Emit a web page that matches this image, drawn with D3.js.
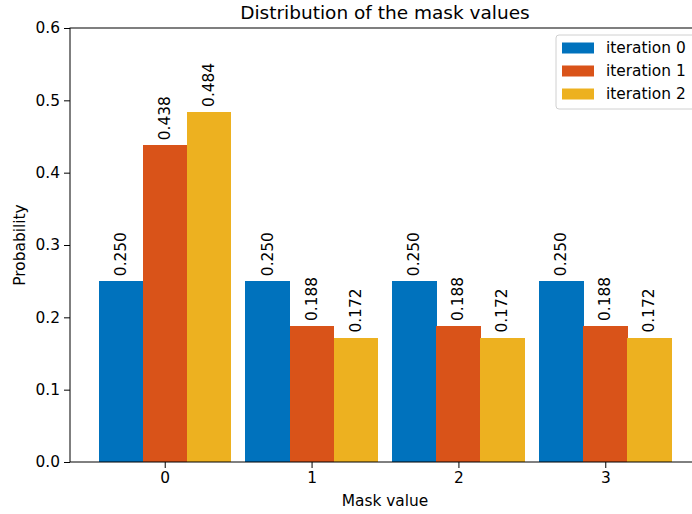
<!DOCTYPE html>
<html>
<head>
<meta charset="utf-8">
<script src="https://cdn.jsdelivr.net/npm/d3@7"></script>
<style>
  body { margin: 0; background: #fff; }
  text { font-family: "DejaVu Sans", sans-serif; fill: #000; }
</style>
</head>
<body>
<svg id="chart" width="692" height="514"></svg>
<script>
// data
var categories = [0, 1, 2, 3];
var seriesNames = ["iteration 0", "iteration 1", "iteration 2"];
var iter0 = [0.250, 0.250, 0.250, 0.250];
var iter1 = [0.438, 0.188, 0.188, 0.188];
var iter2 = [0.484, 0.172, 0.172, 0.172];
var colors = ["#0072BD", "#D95319", "#EDB120"];
var yTicks = [0.0, 0.1, 0.2, 0.3, 0.4, 0.5, 0.6];

var series = [iter0, iter1, iter2];

var svg = d3.select("#chart");
var margin = { left: 70, right: 700, top: 28, bottom: 462 };
var fs = "15.4px";

var barW = 0.3;
var x = d3.scaleLinear().domain([-0.645, 3.645]).range([margin.left, margin.right]);
var y = d3.scaleLinear().domain([0, 0.6]).range([margin.bottom, margin.top]);

// bars + value labels
series.forEach(function (vals, s) {
    var off = (s - 1) * barW;
    var g = svg.append("g");
    g.selectAll("rect")
        .data(vals)
        .enter()
        .append("rect")
        .attr("x", function (d, i) { return x(categories[i] + off - barW / 2); })
        .attr("y", function (d) { return y(d); })
        .attr("width", x(barW) - x(0) + 0.5)
        .attr("height", function (d) { return y(0) - y(d); })
        .attr("shape-rendering", "crispEdges")
        .style("fill", colors[s]);

    g.selectAll("text")
        .data(vals)
        .enter()
        .append("text")
        .attr("transform", function (d, i) {
            return "translate(" + x(categories[i] + off) + "," + (y(d) - 5) + ") rotate(-90)";
        })
        .attr("text-anchor", "start")
        .attr("dominant-baseline", "central")
        .style("font-size", fs)
        .text(function (d) { return d.toFixed(3); });
});

// axes
var xAxis = d3.axisBottom(x).tickValues(categories).tickFormat(d3.format("d")).tickSize(6).tickPadding(4);
var yAxis = d3.axisLeft(y).tickValues(yTicks).tickFormat(d3.format(".1f")).tickSize(6).tickPadding(4);

var gx = svg.append("g").attr("transform", "translate(0," + margin.bottom + ")").call(xAxis);
var gy = svg.append("g").attr("transform", "translate(" + margin.left + ",0)").call(yAxis);

[gx, gy].forEach(function (g) {
    g.select(".domain").remove();
    g.selectAll("line").style("stroke", "#000").style("stroke-width", 1);
    g.selectAll("text").style("font-size", fs).style("font-family", "DejaVu Sans, sans-serif");
});

// spines
svg.append("rect")
    .attr("x", margin.left)
    .attr("y", margin.top)
    .attr("width", margin.right - margin.left)
    .attr("height", margin.bottom - margin.top)
    .style("fill", "none")
    .style("stroke", "#000")
    .style("stroke-width", 1);

// titles
svg.append("text")
    .attr("x", (margin.left + margin.right) / 2)
    .attr("y", 19)
    .attr("text-anchor", "middle")
    .style("font-size", "18.5px")
    .text("Distribution of the mask values");

svg.append("text")
    .attr("x", (margin.left + margin.right) / 2)
    .attr("y", 506)
    .attr("text-anchor", "middle")
    .style("font-size", fs)
    .text("Mask value");

svg.append("text")
    .attr("transform", "translate(25," + (margin.top + margin.bottom) / 2 + ") rotate(-90)")
    .attr("text-anchor", "middle")
    .style("font-size", fs)
    .text("Probability");

// legend
var leg = svg.append("g").attr("transform", "translate(556,35)");
leg.append("rect")
    .attr("x", 0).attr("y", 0)
    .attr("width", 140).attr("height", 74)
    .attr("rx", 3)
    .style("fill", "#fff").style("fill-opacity", 0.8)
    .style("stroke", "#d0d0d0").style("stroke-width", 1);

seriesNames.forEach(function (name, i) {
    var ly = 13 + i * 23;
    leg.append("rect")
        .attr("x", 6).attr("y", ly - 5.5)
        .attr("width", 32).attr("height", 11)
        .style("fill", colors[i]);
    leg.append("text")
        .attr("x", 50).attr("y", ly)
        .attr("dominant-baseline", "central")
        .style("font-size", fs)
        .text(name);
});
</script>
</body>
</html>
